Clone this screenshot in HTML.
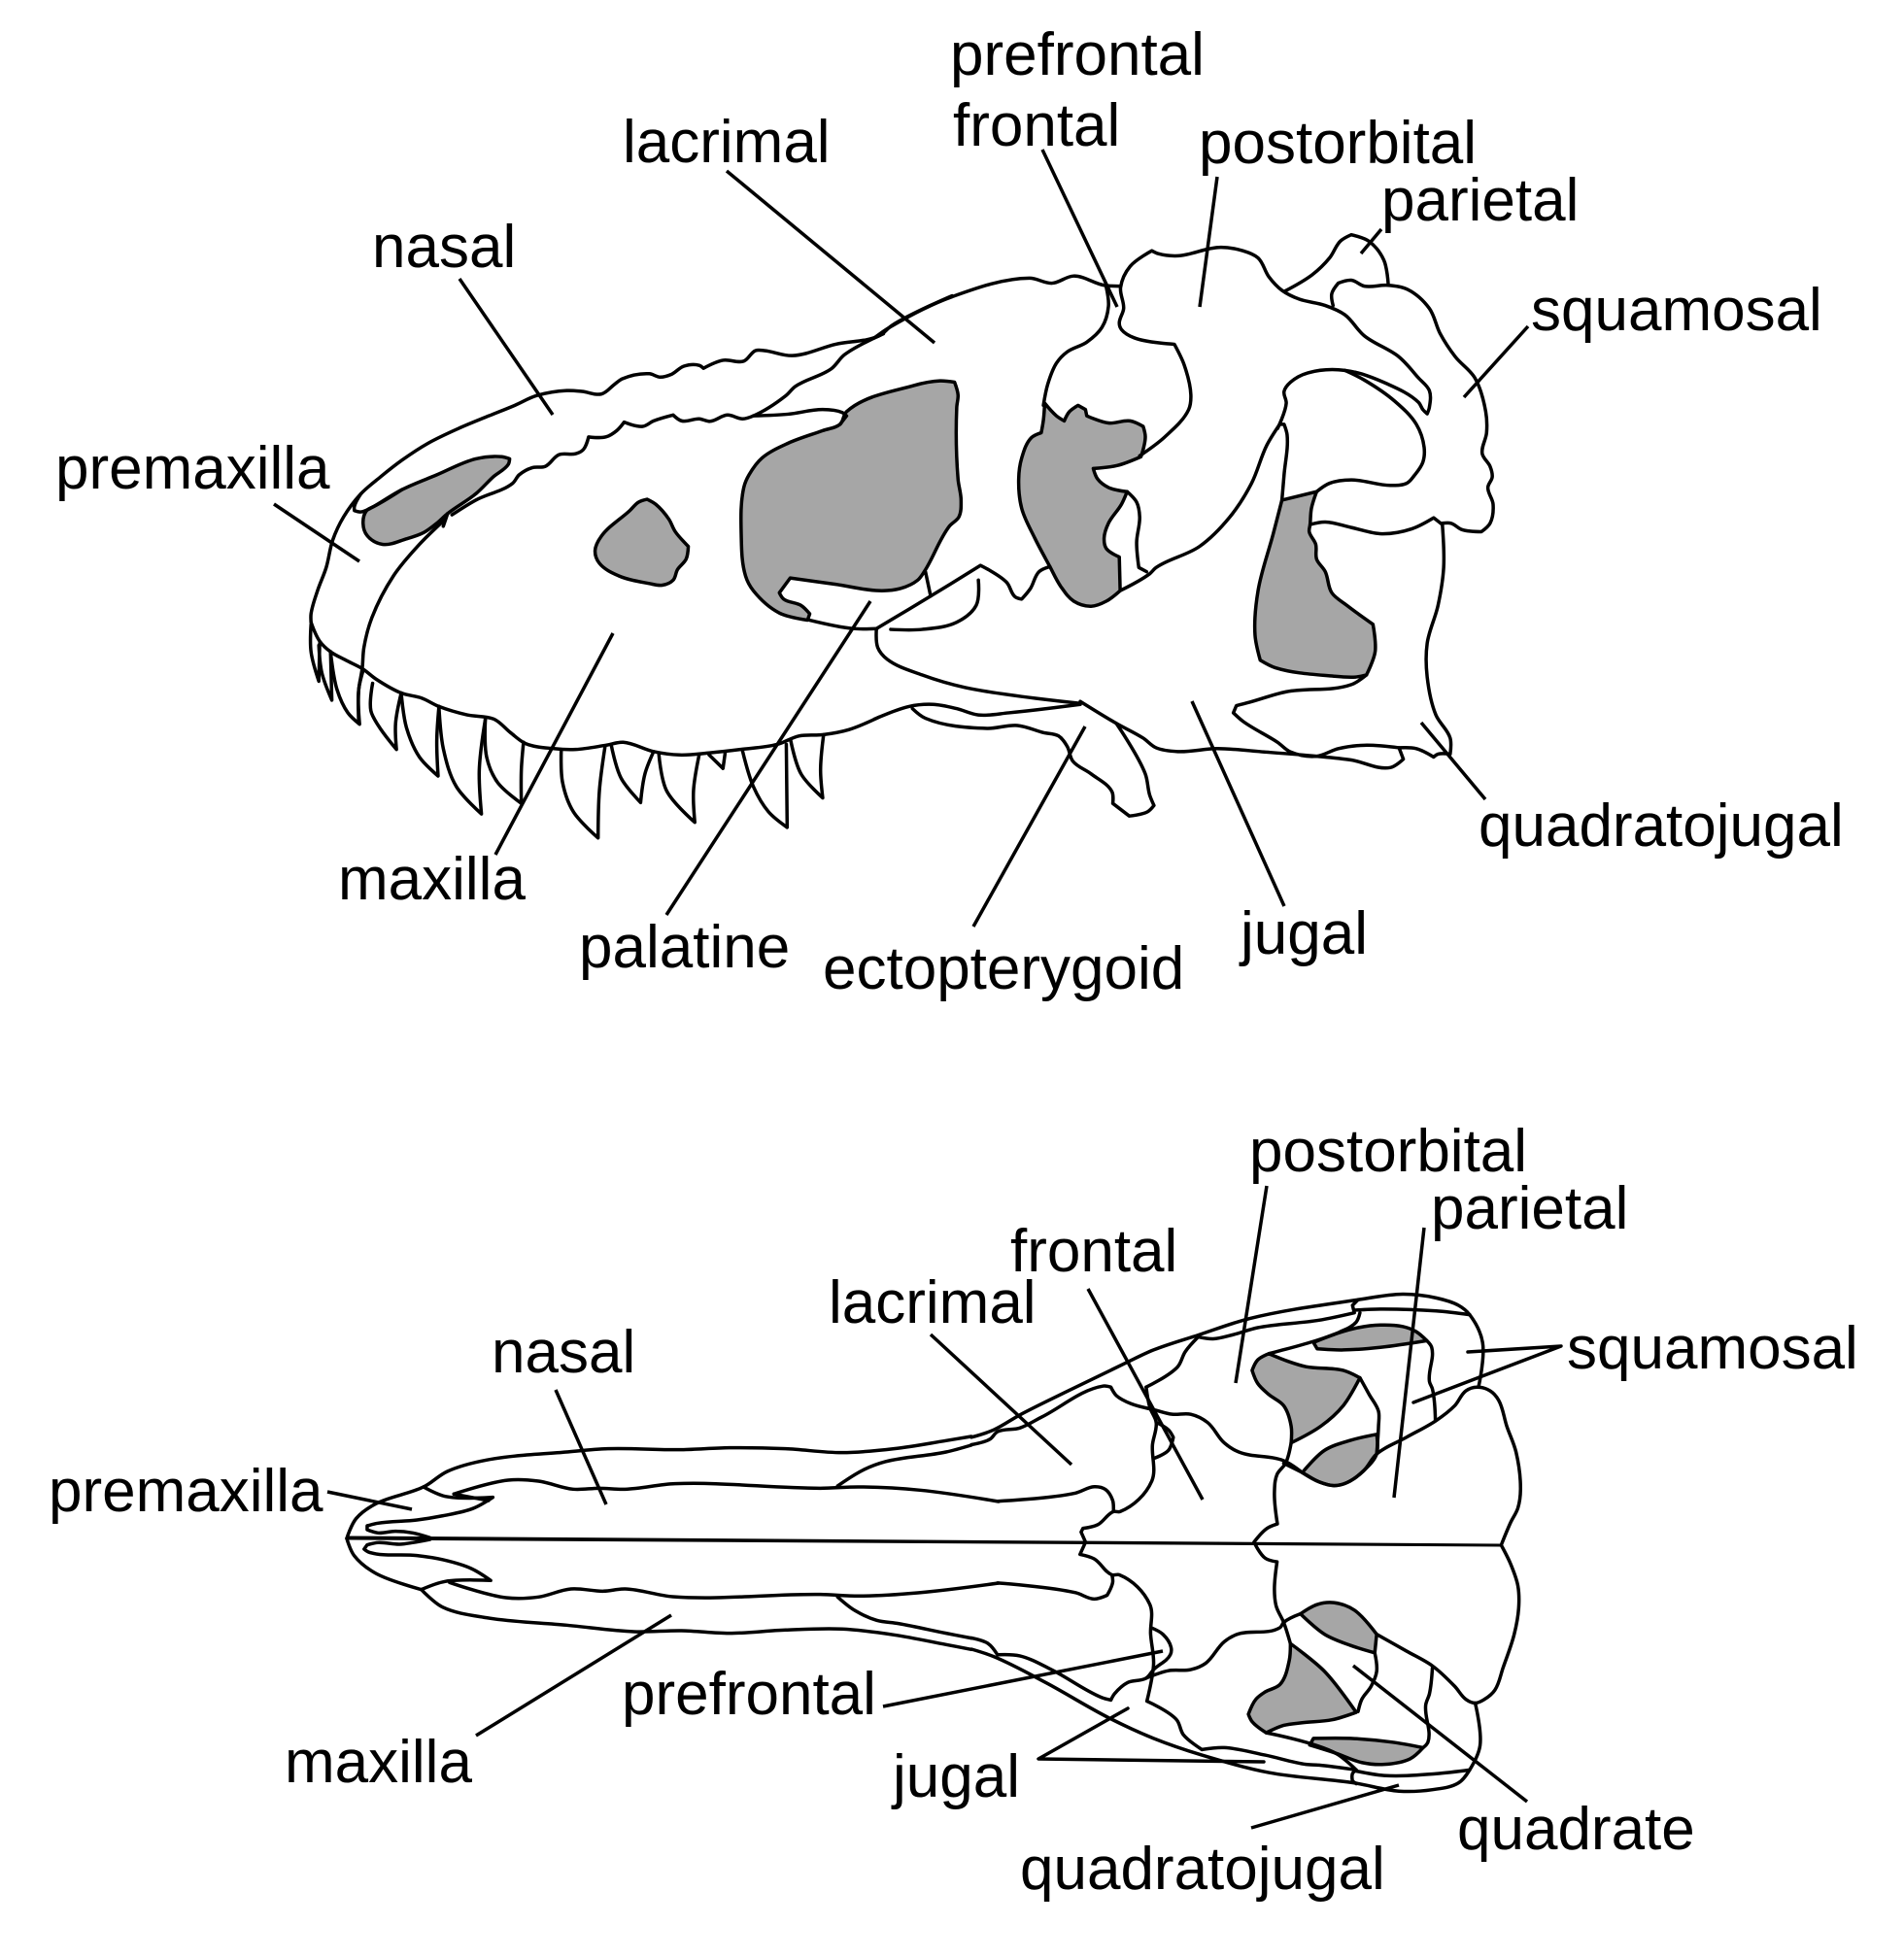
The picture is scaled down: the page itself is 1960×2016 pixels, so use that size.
<!DOCTYPE html>
<html><head><meta charset="utf-8"><style>
html,body{margin:0;padding:0;background:#fff;width:1960px;height:2016px;overflow:hidden}
svg{display:block}
text{font-family:"Liberation Sans",sans-serif;font-size:62px;fill:#000}
polyline,line,.s{fill:none;stroke:#000;stroke-width:3.5;stroke-linejoin:round;stroke-linecap:butt;vector-effect:non-scaling-stroke}
.s{stroke-linecap:round}
polygon,.g{fill:#a6a6a6;stroke:#000;stroke-width:3.5;stroke-linejoin:round;vector-effect:non-scaling-stroke}
</style></head><body>
<svg xmlns="http://www.w3.org/2000/svg" width="1960" height="2016" viewBox="0 0 1960 2016">
<rect width="1960" height="2016" fill="#fff"/>

<!-- lateral view, left part -->
<g transform="translate(280,220) scale(.4464,.4337)">
<polygon points="218,705 210,735 220,765 255,785 310,772 350,757 380,735 405,712 470,665 510,625 545,595 548,582 530,577 470,582 380,620 300,655 235,695"/>
<polygon points="745,800 760,765 825,705 845,685 865,678 885,690 915,725 930,755 960,790 955,820 935,845 925,870 900,882 870,878 800,860 755,830"/>
<polygon points="1325,470 1480,408 1540,397 1574,400 1582,430 1579,460 1582,630 1589,680 1584,720 1562,742 1504,850 1489,870 1449,890 1400,895 1300,880 1195,865 1170,900 1180,915 1220,930 1240,950 1235,965 1170,948 1110,895 1092,860 1082,760 1088,650 1100,620 1130,580 1190,545 1270,515 1310,500"/>
<polyline points="90,970 90,950 105,895 125,840 140,775 165,720 205,665 250,625 300,585 360,545 430,510 500,480 560,455 610,432 680,420 715,422 760,428 790,405 808,392 870,380 895,388 920,382 950,362 985,360 995,367 1040,348 1088,350 1115,325 1135,325 1200,337 1300,310 1400,290 1430,265 1568,195"/>
<polyline points="205,665 190,695 190,705 205,708 235,695 300,655"/>
<polyline points="400,725 340,785 280,860 230,960 212,1030 208,1080 200,1130 200,1210"/>
<polyline points="405,712 395,742"/>
<polyline points="415,715 470,680 555,640 570,620 600,603 630,600 662,572 700,570 718,560 730,530 770,530 795,515 812,495 855,505 880,492 925,478 945,492 985,487 1010,493 1050,478 1085,487 1110,480 1185,432 1207,410 1290,368 1320,335 1410,285"/>
<polyline points="1110,480 1190,476 1270,465 1315,472 1325,480 1310,500"/>
<polyline points="1240,965 1340,985 1395,985"/>
<polyline points="90,970 110,1015 135,1040 170,1060 208,1080 240,1105 298,1138 345,1150 385,1170 450,1190 512,1200 550,1232 585,1258 650,1270 700,1272 770,1262 810,1255 880,1277 940,1285 1010,1280 1080,1272 1165,1260 1215,1240 1270,1237 1330,1225 1400,1195"/>
<polyline points="90,975 90,1040 108,1110 110,1020"/>
<polyline points="108,1025 115,1090 138,1155 135,1040"/>
<polyline points="135,1040 150,1130 175,1185 202,1212 200,1130 210,1085"/>
<polyline points="232,1115 228,1180 245,1215 287,1272 285,1210 298,1138"/>
<polyline points="298,1138 310,1220 340,1290 383,1335 380,1250 385,1170"/>
<polyline points="385,1170 395,1270 425,1360 483,1425 478,1320 492,1200"/>
<polyline points="492,1200 495,1290 520,1350 575,1400 575,1320 580,1255"/>
<polyline points="667,1272 670,1350 695,1420 752,1482 755,1370 768,1265"/>
<polyline points="782,1260 805,1340 850,1398 860,1330 880,1277"/>
<polyline points="892,1282 910,1370 975,1445 972,1370 985,1285"/>
<polyline points="1008,1285 1040,1317 1045,1280"/>
<polyline points="1085,1275 1110,1360 1145,1420 1188,1457 1186,1260"/>
<polyline points="1196,1250 1220,1330 1270,1387 1265,1320 1272,1237"/>
</g>

<!-- lateral view, right part -->
<g transform="translate(900,220) scale(.4464,.4337)">
<polygon points="393,450 420,480 438,492 450,470 470,455 487,465 490,480 540,497 590,492 620,505 625,530 615,577 560,598 505,605 515,630 540,650 583,660 570,690 540,735 530,770 535,795 565,815 567,895 535,920 500,932 460,920 430,885 405,838 370,770 340,700 333,630 340,580 362,532 385,520 390,490"/>
<polygon points="940,680 1020,660 1008,700 1005,738 1003,755 1018,785 1020,820 1040,850 1055,900 1090,930 1150,975 1155,1040 1135,1095 1110,1100 1060,1098 925,1078 890,1060 878,1000 885,895 920,760"/>
<polyline points="0,295 35,270 180,197 358,153 410,165 460,148 530,170 568,172"/>
<polyline points="390,455 400,405 420,355 445,328 490,305 525,270 540,220 535,175"/>
<polyline points="5,985 130,908 245,835 305,875 325,910 340,915 360,890 380,850 405,838"/>
<polyline points="118,850 130,908"/>
<polyline points="38,987 110,987 190,970 235,930 240,870"/>
<polyline points="5,985 8,1030 30,1058 110,1095 210,1125 470,1162"/>
<polyline points="0,1200 80,1170 135,1165 190,1175 240,1190 310,1185 475,1165"/>
<polyline points="88,1175 118,1198 260,1222 330,1215 390,1232 425,1240 445,1265 458,1300 500,1330 548,1372 550,1400 588,1430 630,1420 645,1405 635,1380 625,1330 558,1210"/>
<polyline points="475,1158 558,1210 620,1245 650,1268 700,1277 790,1270 900,1278 1020,1288 1100,1297 1190,1315 1220,1295 1210,1268 1130,1262 1070,1270 1020,1288 960,1278 930,1255 850,1205 828,1185 835,1168 865,1160 950,1135 1100,1118 1135,1095"/>
<polyline points="1005,738 1040,732 1100,745 1170,760 1240,748 1290,722 1310,738 1313,840 1300,930 1275,1020 1275,1100 1295,1190 1328,1245 1328,1283 1300,1283 1290,1290 1250,1270 1210,1268"/>
<polyline points="567,895 635,855 650,840 750,790 820,720 870,640 905,550 935,500 945,500 952,525 945,620 940,680"/>
<polyline points="628,850 610,840 605,780 612,720 605,685 583,660"/>
<polyline points="612,575 670,530 725,465 730,430 715,360 692,310 600,295 570,275 565,260 575,225 568,175 590,125 640,88 655,95 700,100 795,80 850,88 885,105 910,150 940,182 980,203 1040,218 1085,240 1130,290 1210,340 1255,390 1280,420 1280,460 1275,475 1265,465 1255,448 1185,405 1085,372 1000,378 960,400 945,422 950,450 930,510"/>
<polyline points="1085,372 1130,395 1200,445 1250,500 1268,555 1265,590 1245,622 1228,640 1190,645 1100,632 1050,640 1020,660"/>
<polyline points="1058,218 1055,190 1070,165 1100,158 1130,172 1185,170 1230,180 1280,225 1305,285 1340,340 1385,390 1410,470 1412,520 1402,570 1420,600 1425,625 1415,650 1427,690 1420,735 1400,755 1355,750 1330,735 1310,735"/>
<polyline points="945,185 1010,145 1050,105 1075,65 1100,50 1140,65 1175,110 1185,165"/>
</g>

<!-- dorsal view, left part -->
<g transform="translate(340,1400) scale(.4464,.3333)">
<polyline points="38,552 60,490 105,445 215,393 270,345 360,310 545,285 640,275 810,278 920,272 1050,275 1180,287 1300,275 1420,250 1478,237"/>
<polyline points="215,393 265,422 375,425 328,460 260,482 200,495 110,505 85,513 85,525 110,535 150,530 190,535 230,550"/>
<polyline points="38,552 55,605 105,660 210,710 265,685 370,682 325,645 260,618 200,605 90,595 78,585 85,572 110,565 160,570 190,565 230,555"/>
<polyline points="285,415 410,372 480,375 560,400 620,397 680,400 795,383 1130,397 1220,393 1360,403 1541,438"/>
<polyline points="365,435 285,415"/>
<polyline points="275,688 405,735 480,733 555,708 630,715 680,708 790,732 1130,725 1220,730 1355,720 1541,690"/>
<polyline points="1170,390 1230,340 1280,315 1420,285 1478,264"/>
<polyline points="1170,733 1210,775 1260,805 1310,815 1420,845 1478,860"/>
<polyline points="210,710 260,765 360,797 545,820 700,840 810,837 920,845 1050,835 1180,832 1300,850 1420,880 1478,895"/>
</g>
<path d="M357,1581.5 L1545,1589.5 L1545,1592.5 L357,1585.5 Z" fill="#000"/>

<!-- dorsal view, right part -->
<g transform="translate(1000,1300) scale(.3827)">
<polygon points="800,245 850,265 900,280 1000,290 1045,310 1000,385 940,440 860,485 860,440 840,385 800,355 770,325 755,290 770,262"/>
<polygon points="890,565 950,505 1020,478 1090,462 1090,515 1055,560 1010,592 975,600 935,590"/>
<polygon points="920,215 930,232 1000,235 1100,228 1225,210 1195,185 1160,172 1100,168 1040,175 985,190"/>
<polygon points="885,945 930,920 975,915 1030,935 1090,1000 1085,1050 1020,1030 950,1000"/>
<polygon points="858,1025 950,1100 1035,1210 970,1230 890,1238 840,1245 793,1265 755,1235 745,1215 765,1175 790,1155 830,1135 855,1070"/>
<polygon points="910,1298 920,1280 1020,1280 1130,1290 1215,1305 1180,1335 1110,1350 1050,1345 980,1320"/>
<polyline points="0,470 60,450 130,410 250,350 415,270 490,235 610,195 750,150 1040,100 1160,85 1250,95 1310,115 1340,140 1375,215 1365,330"/>
<polyline points="0,490 50,475 70,455 130,445 190,415 355,332 375,335 390,358 430,380 495,397 540,408 590,408 635,430 680,485 720,510 840,533 890,565"/>
<polyline points="470,335 555,280 575,240 610,200 650,205 700,195 770,175 935,155 1030,135 1025,115 1040,100"/>
<polyline points="1030,128 1100,125 1250,130 1340,140"/>
<polyline points="1045,135 1035,160 990,187 920,212 800,245"/>
<polyline points="1045,310 1070,355 1095,400 1095,440 1090,515"/>
<polyline points="860,485 845,540 822,570 815,620 823,703 795,715 760,752 790,795 822,805 815,880 820,925 840,968 858,1025"/>
<polyline points="840,540 890,565 935,590 975,600 1010,592 1055,560 1090,515 1170,470 1250,425 1300,385 1330,345 1360,335 1395,345 1418,370 1440,440 1465,510 1477,610 1470,660 1450,700 1425,760 1450,810 1470,870 1472,930 1460,1000 1430,1090 1408,1150 1380,1175 1355,1185 1330,1175 1300,1140 1240,1085 1170,1045 1090,1000"/>
<polyline points="1225,210 1238,228 1232,320 1240,340 1248,425"/>
<polyline points="470,335 480,390 497,430 487,490 485,588 400,670 382,670 340,705 300,715 295,725 307,752 292,785 330,797 378,840 398,840 480,920 482,1000 490,1080 472,1180 552,1230 570,1270 620,1310"/>
<polyline points="70,642 280,620 330,603 360,610 380,640 382,670"/>
<polyline points="70,862 280,888 330,905 365,895 380,860 378,840"/>
<polyline points="497,430 530,450 543,470 530,505 490,527"/>
<polyline points="483,982 515,1000 537,1035 535,1055 490,1095 470,1118 420,1130 385,1160 375,1177 350,1170 215,1095 130,1058 70,1055 45,1025 0,1010"/>
<polyline points="470,1118 530,1098 590,1095 630,1078 680,1020 715,1000 830,982 840,968 885,945"/>
<polyline points="1085,1050 1090,1100 1075,1140 1050,1175 1040,1208"/>
<polyline points="793,1265 980,1320 1035,1365 1025,1375 1025,1395 1035,1402"/>
<polyline points="1215,1305 1228,1290 1222,1190 1232,1160 1240,1090"/>
<polyline points="1355,1185 1368,1300 1340,1365 1310,1400 1240,1418 1150,1422 1030,1400 800,1372 620,1325 490,1280 370,1225 200,1130 60,1060 0,1040"/>
<polyline points="1035,1368 1110,1380 1250,1375 1340,1365"/>
<polyline points="620,1310 680,1305 790,1325 900,1350 935,1352 1035,1365"/>
</g>

<!-- leaders, lateral -->
<line x1="748" y1="176" x2="962" y2="353"/>
<line x1="473" y1="287" x2="569" y2="427"/>
<line x1="282" y1="519" x2="370" y2="578"/>
<line x1="631" y1="652" x2="510" y2="880"/>
<line x1="896" y1="619" x2="686" y2="942"/>
<line x1="1073" y1="154" x2="1150" y2="316"/>
<line x1="1253" y1="182" x2="1235" y2="316"/>
<line x1="1422" y1="236" x2="1401" y2="261"/>
<line x1="1573" y1="336" x2="1507" y2="409"/>
<line x1="1463" y1="744" x2="1529" y2="823"/>
<line x1="1227" y1="722" x2="1322" y2="933"/>
<line x1="1117" y1="748" x2="1002" y2="954"/>

<!-- leaders, dorsal -->
<line x1="337" y1="1536" x2="424" y2="1554"/>
<line x1="572" y1="1431" x2="624" y2="1549"/>
<line x1="691" y1="1663" x2="490" y2="1787"/>
<line x1="958" y1="1374" x2="1103" y2="1508"/>
<line x1="1120" y1="1327" x2="1238" y2="1544"/>
<line x1="1304" y1="1221" x2="1272" y2="1424"/>
<line x1="1466" y1="1264" x2="1435" y2="1542"/>
<path class="s" d="M1511,1392 L1607,1386 L1455,1444"/>
<line x1="909" y1="1757" x2="1197" y2="1700"/>
<path class="s" d="M1161,1759 L1069,1811 L1301,1814"/>
<line x1="1393" y1="1715" x2="1572" y2="1855"/>
<line x1="1440" y1="1838" x2="1288" y2="1882"/>

<!-- labels, lateral -->
<text x="978" y="77">prefrontal</text>
<text x="981" y="150">frontal</text>
<text x="641" y="167">lacrimal</text>
<text x="1234" y="168">postorbital</text>
<text x="1422" y="227">parietal</text>
<text x="383" y="275">nasal</text>
<text x="1576" y="340">squamosal</text>
<text x="57" y="503">premaxilla</text>
<text x="348" y="926">maxilla</text>
<text x="596" y="996">palatine</text>
<text x="847" y="1018">ectopterygoid</text>
<text x="1277" y="982">jugal</text>
<text x="1522" y="871">quadratojugal</text>

<!-- labels, dorsal -->
<text x="1286" y="1206">postorbital</text>
<text x="1473" y="1265">parietal</text>
<text x="1040" y="1309">frontal</text>
<text x="853" y="1362">lacrimal</text>
<text x="506" y="1413">nasal</text>
<text x="1613" y="1409">squamosal</text>
<text x="50" y="1556">premaxilla</text>
<text x="640" y="1765">prefrontal</text>
<text x="293" y="1835">maxilla</text>
<text x="919" y="1850">jugal</text>
<text x="1500" y="1904">quadrate</text>
<text x="1050" y="1945">quadratojugal</text>
</svg>
<script>
(function(){
var NS="http://www.w3.org/2000/svg";
var els=document.querySelectorAll("polyline,polygon");
for(var n=0;n<els.length;n++){
  var el=els[n],closed=el.tagName==="polygon";
  var nums=el.getAttribute("points").trim().split(/[\s,]+/).map(Number),P=[];
  for(var i=0;i<nums.length;i+=2)P.push([nums[i],nums[i+1]]);
  var N=P.length,T=[];
  for(i=0;i<N;i++){
    var a=closed?P[(i-1+N)%N]:P[i-1],b=closed?P[(i+1)%N]:P[i+1];
    if(!a||!b){T.push(null);continue;}
    var ax=P[i][0]-a[0],ay=P[i][1]-a[1],bx=b[0]-P[i][0],by=b[1]-P[i][1];
    var la=Math.hypot(ax,ay),lb=Math.hypot(bx,by);
    var c=(ax*bx+ay*by)/(la*lb||1);
    if(c<0.7){T.push(null);continue;}
    var tx=ax/la+bx/lb,ty=ay/la+by/lb,l=Math.hypot(tx,ty)||1;
    T.push([tx/l,ty/l]);
  }
  var d="M"+P[0][0]+","+P[0][1],segs=closed?N:N-1;
  for(i=0;i<segs;i++){
    var j=(i+1)%N,p=P[i],q=P[j],L=Math.hypot(q[0]-p[0],q[1]-p[1])/3;
    var c1=T[i]?[p[0]+T[i][0]*L,p[1]+T[i][1]*L]:p;
    var c2=T[j]?[q[0]-T[j][0]*L,q[1]-T[j][1]*L]:q;
    d+="C"+c1[0].toFixed(1)+","+c1[1].toFixed(1)+" "+c2[0].toFixed(1)+","+c2[1].toFixed(1)+" "+q[0]+","+q[1];
  }
  if(closed)d+="Z";
  var path=document.createElementNS(NS,"path");
  path.setAttribute("d",d);
  path.setAttribute("class",closed?"g":"s");
  el.parentNode.replaceChild(path,el);
}
})();
</script>
</body></html>
